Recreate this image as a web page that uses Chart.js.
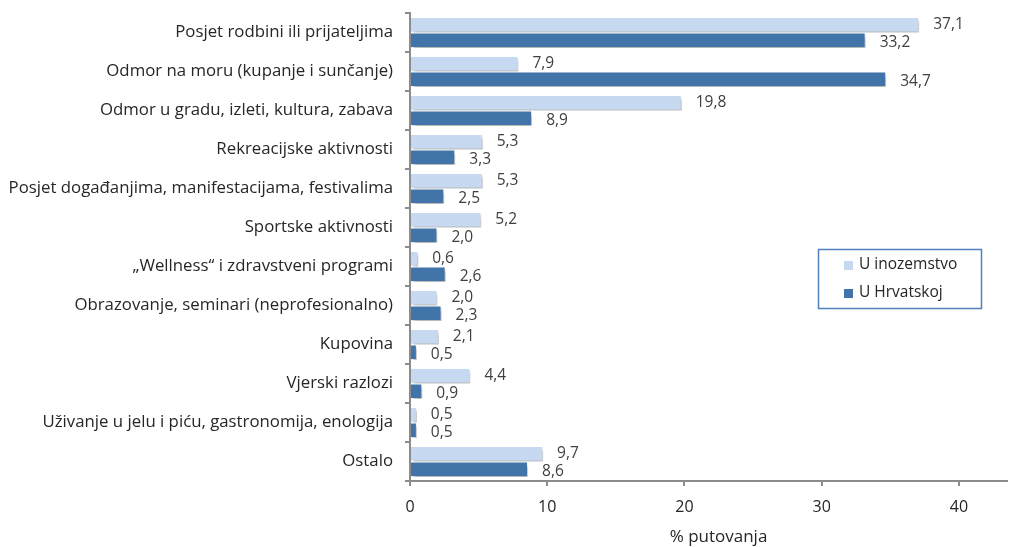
<!DOCTYPE html>
<html>
<head>
<meta charset="utf-8">
<script src="https://cdn.jsdelivr.net/npm/chart.js@4/dist/chart.umd.min.js"></script>
<style>
  html, body { margin: 0; padding: 0; background: #fff; }
  #wrap { width: 1012px; height: 547px; }
</style>
</head>
<body>
<div id="wrap"><canvas id="chartContainer"></canvas></div>
<script>
"use strict";

// 1: data
const categories = [
  "Posjet rodbini ili prijateljima",
  "Odmor na moru (kupanje i sunčanje)",
  "Odmor u gradu, izleti, kultura, zabava",
  "Rekreacijske aktivnosti",
  "Posjet događanjima, manifestacijama, festivalima",
  "Sportske aktivnosti",
  "\u201EWellness\u201C i zdravstveni programi",
  "Obrazovanje, seminari (neprofesionalno)",
  "Kupovina",
  "Vjerski razlozi",
  "Uživanje u jelu i piću, gastronomija, enologija",
  "Ostalo"
];
const seriesNames = ["U inozemstvo", "U Hrvatskoj"];
const abroad = [37.1, 7.9, 19.8, 5.3, 5.3, 5.2, 0.6, 2.0, 2.1, 4.4, 0.5, 9.7];
const croatia = [33.2, 34.7, 8.9, 3.3, 2.5, 2.0, 2.6, 2.3, 0.5, 0.9, 0.5, 8.6];
const xTicks = [0, 10, 20, 30, 40];
const axisTitle = "% putovanja";

const FONT = "'Open Sans', 'Noto Sans', sans-serif";
const SIZE = 15.5;
const CAT_SIZE = 16.8;
const TEXT = "#262626";
const LIGHT = "#c6d9f1";
const DARK = "#4174a9";

// drop shadow under the bars
const shadowPlugin = {
  id: "shadow",
  beforeDatasetsDraw(chart) {
    const ctx = chart.ctx;
    ctx.save();
    ctx.shadowColor = "rgba(0,0,0,0.28)";
    ctx.shadowOffsetX = 2;
    ctx.shadowOffsetY = 3;
    ctx.shadowBlur = 3;
  },
  afterDatasetsDraw(chart) {
    chart.ctx.restore();
  }
};

// value labels right of each bar, with a comma as decimal sign
const valueLabels = {
  id: "valueLabels",
  afterDatasetsDraw(chart) {
    const ctx = chart.ctx;
    ctx.save();
    ctx.font = SIZE + "px " + FONT;
    ctx.fillStyle = "#404040";
    ctx.textAlign = "left";
    ctx.textBaseline = "middle";
    chart.data.datasets.forEach((ds, i) => {
      chart.getDatasetMeta(i).data.forEach((bar, j) => {
        const txt = ds.data[j].toFixed(1).replace(".", ",");
        ctx.fillText(txt, bar.x + 14, bar.y + (i === 1 ? 2 : 0));
      });
    });
    ctx.restore();
  }
};

// legend in a framed box inside the plot, and the x axis title
const boxLegend = {
  id: "boxLegend",
  afterDraw(chart) {
    const ctx = chart.ctx;
    const area = chart.chartArea;
    ctx.save();
    ctx.strokeStyle = "#4f81bd";
    ctx.lineWidth = 1.5;
    ctx.strokeRect(818.5, 249.5, 163, 59);
    ctx.font = SIZE + "px " + FONT;
    ctx.textBaseline = "middle";
    chart.data.datasets.forEach((ds, i) => {
      const y = 265 + i * 28;
      ctx.fillStyle = ds.backgroundColor;
      ctx.fillRect(844, y - 4, 9, 9);
      ctx.fillStyle = TEXT;
      ctx.fillText(ds.label, 859, y);
    });
    ctx.font = "17px " + FONT;
    ctx.textAlign = "center";
    ctx.fillText(axisTitle, (area.left + area.right) / 2 + 10, 537);
    ctx.restore();
  }
};

function appendChart() {
  const chartContainer = document.getElementById("chartContainer");
  new Chart(chartContainer, {
    type: "bar",
    data: {
      labels: categories,
      datasets: [
        { label: seriesNames[0], data: abroad, backgroundColor: LIGHT, borderColor: "#fff", borderWidth: 1 },
        { label: seriesNames[1], data: croatia, backgroundColor: DARK, borderColor: "#fff", borderWidth: 1 }
      ]
    },
    options: {
      indexAxis: "y",
      responsive: true,
      maintainAspectRatio: false,
      animation: false,
      categoryPercentage: 0.8,
      barPercentage: 1.0,
      layout: { padding: { top: 13, right: 5, bottom: 0, left: 0 } },
      plugins: {
        legend: { display: false },
        tooltip: { enabled: false }
      },
      scales: {
        x: {
          min: 0,
          max: 43.5,
          afterBuildTicks(scale) {
            scale.ticks = xTicks.map(v => ({ value: v }));
          },
          afterFit(scale) { scale.height = 66; },
          border: { color: "#8c8c8c", width: 2 },
          grid: { drawOnChartArea: false, drawTicks: true, tickLength: 5, color: "#8c8c8c", lineWidth: 2 },
          ticks: { font: { family: FONT, size: 16 }, color: TEXT, padding: 12 }
        },
        y: {
          afterFit(scale) {
            scale.width = 410;
            scale.paddingTop = 0;
            scale.paddingBottom = 0;
          },
          border: { color: "#8c8c8c", width: 2 },
          grid: { drawOnChartArea: false, drawTicks: true, tickLength: 5, color: "#8c8c8c", lineWidth: 2, offset: true },
          ticks: { font: { family: FONT, size: CAT_SIZE }, color: TEXT, padding: 12, autoSkip: false }
        }
      }
    },
    plugins: [shadowPlugin, valueLabels, boxLegend]
  });
}

appendChart();
</script>
</body>
</html>
